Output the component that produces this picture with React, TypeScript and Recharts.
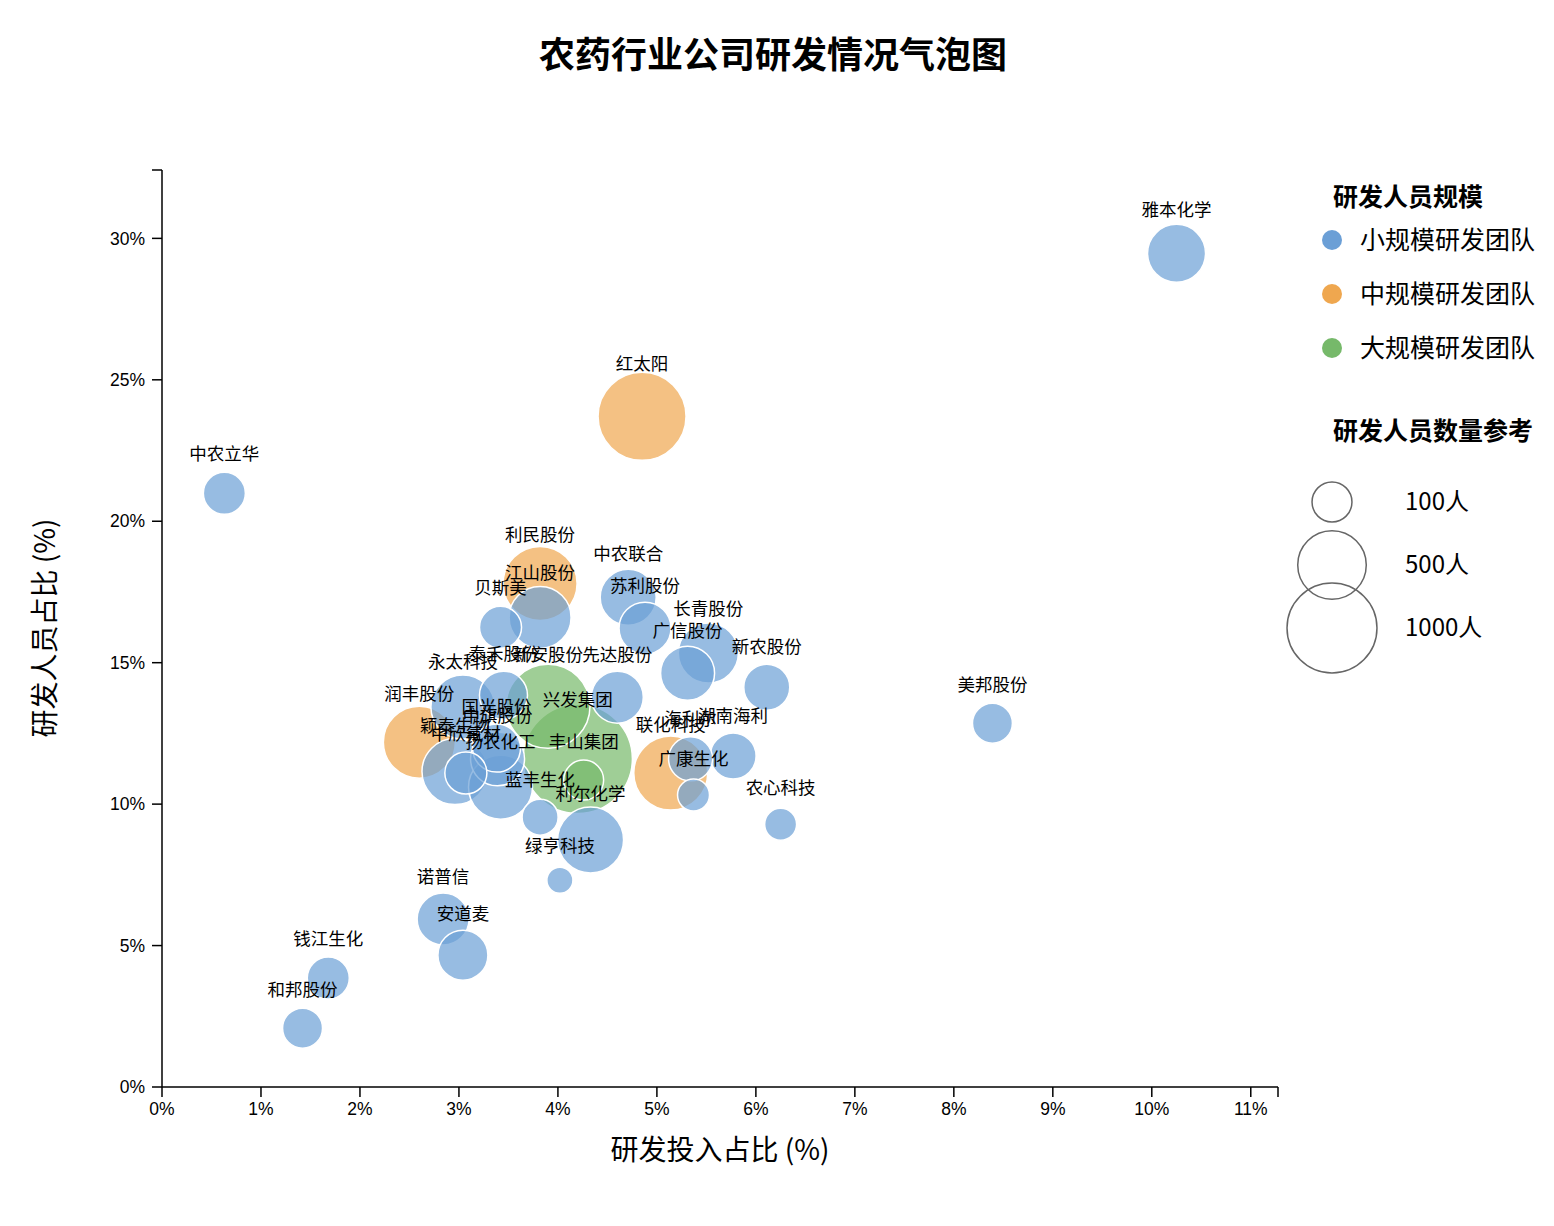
import React from 'react';
import { ScatterChart, Scatter, XAxis, YAxis } from 'recharts';

// ---- data ----
const companies = [
  '雅本化学', '红太阳', '中农立华', '利民股份', '江山股份', '贝斯美', '中农联合', '苏利股份',
  '长青股份', '广信股份', '新农股份', '先达股份', '新安股份', '泰禾股份', '永太科技', '润丰股份',
  '国光股份', '中旗股份', '颖泰生物', '中欣氟材', '扬农化工', '兴发集团', '丰山集团', '蓝丰生化',
  '利尔化学', '绿亨科技', '海利尔', '湖南海利', '联化科技', '广康生化', '农心科技', '诺普信',
  '安道麦', '钱江生化', '和邦股份', '美邦股份',
];
// R&D investment share (%)
const rdInvestPct = [
  10.25, 4.85, 0.63, 3.82, 3.82, 3.42, 4.71, 4.88,
  5.52, 5.31, 6.11, 4.6, 3.9, 3.45, 3.04, 2.6,
  3.38, 3.39, 2.96, 3.07, 3.42, 4.2, 4.26, 3.82,
  4.33, 4.02, 5.34, 5.77, 5.14, 5.37, 6.25, 2.84,
  3.04, 1.68, 1.42, 8.39,
];
// R&D staff share (%)
const rdStaffPct = [
  29.47, 23.71, 20.99, 17.8, 16.6, 16.25, 17.31, 16.22,
  15.34, 14.63, 14.13, 13.78, 13.46, 13.85, 13.43, 12.19,
  11.98, 11.6, 11.15, 11.1, 10.6, 11.6, 10.85, 9.54,
  8.73, 7.31, 11.6, 11.7, 11.1, 10.32, 9.29, 5.94,
  4.66, 3.85, 2.08, 12.86,
];
// R&D staff count (people)
const rdStaffCount = [
  317, 947, 119, 611, 381, 119, 287, 231,
  349, 258, 159, 231, 843, 182, 416, 569,
  182, 258, 452, 119, 416, 1600, 100, 69,
  452, 16, 138, 159, 611, 43, 43, 231,
  206, 119, 100, 100,
];
// team scale group: 0 small, 1 medium, 2 large
const teamScale = [
  0, 1, 0, 1, 0, 0, 0, 0,
  0, 0, 0, 0, 2, 0, 0, 1,
  0, 0, 0, 0, 0, 2, 2, 0,
  0, 0, 0, 0, 1, 0, 0, 0,
  0, 0, 0, 0,
];

const scaleNames = ['小规模研发团队', '中规模研发团队', '大规模研发团队'];
const scaleColors = ['#6b9fd6', '#efa74f', '#76b96a'];
const sizeRefCounts = [100, 500, 1000];
const sizeRefLabels = ['100人', '500人', '1000人'];
const xTickValues = [0, 1, 2, 3, 4, 5, 6, 7, 8, 9, 10, 11];
const yTickValues = [0, 5, 10, 15, 20, 25, 30];

const TITLE = '农药行业公司研发情况气泡图';
const X_TITLE = '研发投入占比 (%)';
const Y_TITLE = '研发人员占比 (%)';
const LEGEND_TITLE_1 = '研发人员规模';
const LEGEND_TITLE_2 = '研发人员数量参考';

// ---- helpers ----
const rOf = (n: number) => 8.4 + 1.157 * Math.sqrt(n);

const rows = companies
  .map((name, i) => ({
    name,
    x: rdInvestPct[i],
    y: rdStaffPct[i],
    n: rdStaffCount[i],
    g: teamScale[i],
  }))
  .sort((a, b) => b.n - a.n);

const xMax = Math.max(...rdInvestPct) * 1.1;
const yMax = Math.max(...rdStaffPct) * 1.1;

const CJK = '"Noto Sans CJK SC", "Noto Sans", sans-serif';
const LATIN = '"Liberation Sans", Arial, "Noto Sans CJK SC", sans-serif';

const BubbleShape = (props: any) => {
  const { cx, cy, payload } = props;
  if (cx == null || cy == null) return null;
  return (
    <circle
      cx={cx}
      cy={cy}
      r={rOf(payload.n)}
      fill={scaleColors[payload.g]}
      fillOpacity={0.7}
      stroke="#ffffff"
      strokeWidth={1.5}
    />
  );
};

const LabelShape = (props: any) => {
  const { cx, cy, payload } = props;
  if (cx == null || cy == null) return null;
  const r = rOf(payload.n);
  return (
    <text
      x={cx}
      y={cy - 27 - 0.58 * r}
      dy="0.35em"
      textAnchor="middle"
      fontSize={17.5}
      fontFamily={CJK}
      fill="#000"
    >
      {payload.name}
    </text>
  );
};

const W = 1554;
const H = 1226;

export default function App() {
  const xTicks = [...xTickValues, xMax];
  const yTicks = [...yTickValues, yMax];
  return (
    <div style={{ position: 'relative', width: W, height: H, background: '#fff' }}>
      <style>{`body{margin:0;background:#fff;}`}</style>
      <ScatterChart
        width={W}
        height={H}
        margin={{ top: 170, right: W - 1278, bottom: H - 1087 - 40, left: 162 - 60 }}
      >
        <XAxis
          type="number"
          dataKey="x"
          domain={[0, xMax]}
          ticks={xTicks}
          interval={0}
          height={40}
          tickFormatter={(v: number) => (v === xMax ? '' : `${v}%`)}
          axisLine={{ stroke: '#000', strokeWidth: 1.5 }}
          tickLine={{ stroke: '#000', strokeWidth: 1.5 }}
          tickSize={10}
          tickMargin={6}
          tick={{ fontSize: 17.5, fill: '#000', fontFamily: LATIN }}
        />
        <YAxis
          type="number"
          dataKey="y"
          domain={[0, yMax]}
          ticks={yTicks}
          interval={0}
          width={60}
          tickFormatter={(v: number) => (v === yMax ? '' : `${v}%`)}
          axisLine={{ stroke: '#000', strokeWidth: 1.5 }}
          tickLine={{ stroke: '#000', strokeWidth: 1.5 }}
          tickSize={10}
          tickMargin={7}
          tick={{ fontSize: 17.5, fill: '#000', fontFamily: LATIN }}
        />
        <Scatter
          data={rows}
          shape={BubbleShape}
          isAnimationActive={false}
          legendType="none"
        />
        <Scatter
          data={rows}
          shape={LabelShape}
          isAnimationActive={false}
          legendType="none"
        />
      </ScatterChart>
      <svg
        width={W}
        height={H}
        style={{ position: 'absolute', left: 0, top: 0, pointerEvents: 'none' }}
      >
        <text
          x={773}
          y={55}
          dy="0.35em"
          textAnchor="middle"
          fontSize={36}
          fontWeight="bold"
          fontFamily={CJK}
          fill="#000"
        >
          {TITLE}
        </text>
        <text
          x={720}
          y={1150}
          dy="0.35em"
          textAnchor="middle"
          fontSize={28}
          fontFamily={CJK}
          fill="#000"
        >
          {X_TITLE}
        </text>
        <text
          x={45}
          y={628}
          dy="0.35em"
          textAnchor="middle"
          fontSize={28}
          fontFamily={CJK}
          fill="#000"
          transform="rotate(-90 45 628)"
        >
          {Y_TITLE}
        </text>
        {/* colour legend */}
        <text x={1333} y={197} dy="0.35em" fontSize={25} fontWeight="bold" fontFamily={CJK} fill="#000">
          {LEGEND_TITLE_1}
        </text>
        {scaleNames.map((name, i) => (
          <g key={name}>
            <circle cx={1332} cy={240 + i * 54} r={10} fill={scaleColors[i]} />
            <text x={1360} y={240 + i * 54} dy="0.35em" fontSize={25} fontFamily={CJK} fill="#000">
              {name}
            </text>
          </g>
        ))}
        {/* size legend */}
        <text x={1333} y={431} dy="0.35em" fontSize={25} fontWeight="bold" fontFamily={CJK} fill="#000">
          {LEGEND_TITLE_2}
        </text>
        {sizeRefCounts.map((n, i) => (
          <g key={n}>
            <circle cx={1332} cy={502 + i * 63} r={rOf(n)} fill="none" stroke="#666" strokeWidth={1.5} />
            <text x={1405} y={502 + i * 63} dy="0.35em" fontSize={24} fontFamily={CJK} fill="#000">
              {sizeRefLabels[i]}
            </text>
          </g>
        ))}
      </svg>
    </div>
  );
}
